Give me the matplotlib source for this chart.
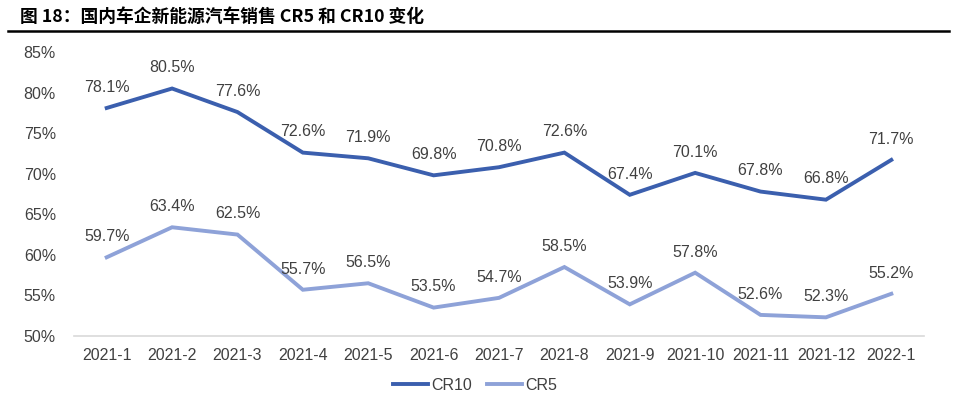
import matplotlib
matplotlib.use("Agg")
import matplotlib.pyplot as plt
from matplotlib.lines import Line2D

months = ["2021-1", "2021-2", "2021-3", "2021-4", "2021-5", "2021-6", "2021-7",
          "2021-8", "2021-9", "2021-10", "2021-11", "2021-12", "2022-1"]
cr10 = [78.1, 80.5, 77.6, 72.6, 71.9, 69.8, 70.8, 72.6, 67.4, 70.1, 67.8, 66.8, 71.7]
cr5 = [59.7, 63.4, 62.5, 55.7, 56.5, 53.5, 54.7, 58.5, 53.9, 57.8, 52.6, 52.3, 55.2]
yticks = [50, 55, 60, 65, 70, 75, 80, 85]

c10 = "#3B5FAE"
c5 = "#8EA2D8"
txt = "#404040"

plt.rcParams['font.family'] = ['Liberation Sans', 'DejaVu Sans']

fig = plt.figure(figsize=(9.56, 3.97), dpi=100)
ax = fig.add_axes([74/956, 1-336/397, 850/956, (336-52)/397])

x = list(range(len(months)))
ax.plot(x, cr10, color=c10, lw=2.8, solid_joinstyle='miter', label="CR10")
ax.plot(x, cr5, color=c5, lw=2.8, solid_joinstyle='miter', label="CR5")

for xi, v in zip(x, cr10):
    ax.annotate(f"{v:.1f}%", (xi, v), xytext=(0, 9.5), textcoords='offset points',
                ha='center', va='bottom', fontsize=11.5, color=txt)
for xi, v in zip(x, cr5):
    ax.annotate(f"{v:.1f}%", (xi, v), xytext=(0, 9.5), textcoords='offset points',
                ha='center', va='bottom', fontsize=11.5, color=txt)

ax.set_xlim(-0.5, len(months) - 0.5)
ax.set_ylim(50, 85)
ax.set_yticks(yticks)
ax.set_yticklabels([f"{t}%" for t in yticks], fontsize=11.5, color=txt)
ax.set_xticks(x)
ax.set_xticklabels(months, fontsize=11.5, color=txt)
ax.tick_params(length=0, pad=9)
ax.tick_params(axis='y', pad=13)
for s in ['top', 'right', 'left']:
    ax.spines[s].set_visible(False)
ax.spines['bottom'].set_color('#D9D9D9')
ax.spines['bottom'].set_linewidth(1.2)

handles = [Line2D([], [], color=c10, lw=2.8), Line2D([], [], color=c5, lw=2.8)]
fig.legend(handles, ["CR10", "CR5"], loc='center', bbox_to_anchor=(475/956, 1-385/397),
           ncol=2, frameon=False, fontsize=11.5, handlelength=2.2, handletextpad=0.2,
           columnspacing=0.9, labelcolor=txt)

fig.text(20/956, 1-17/397, "图 18：国内车企新能源汽车销售 CR5 和 CR10 变化",
         fontsize=12.8, fontweight='bold', va='center', ha='left',
         family=['Noto Sans CJK SC', 'DejaVu Sans'], color='#000000')
fig.add_artist(Line2D([8/956, 949/956], [1-31/397, 1-31/397], color='#000000', lw=1.8,
                      transform=fig.transFigure))

fig.savefig("out.png", dpi=100)
